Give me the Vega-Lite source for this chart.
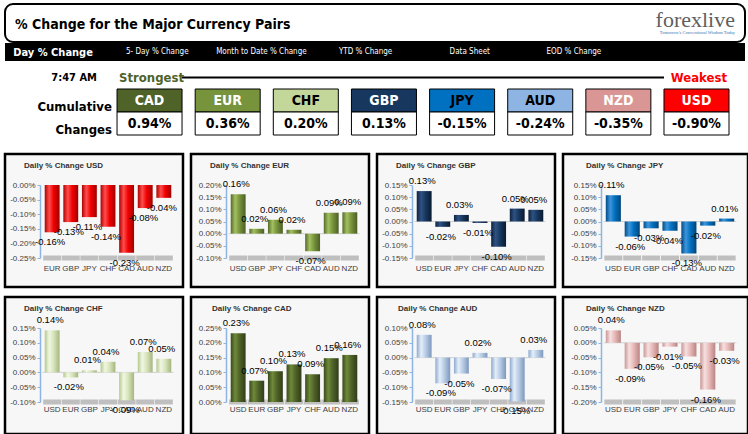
{
"$schema": "https://vega.github.io/schema/vega-lite/v6.json",
"padding": {"left": 3, "top": 3, "right": 0, "bottom": 0},
"background": "white",
"spacing": 8,
"datasets": {
"tabs": [{"tab":"Day % Change"},{"tab":"5- Day % Change"},{"tab":"Month to Date % Change"},{"tab":"YTD % Change"},{"tab":"Data Sheet"},{"tab":"EOD % Change"}],
"cum": [{"cur":"CAD","cum":0.0094},{"cur":"EUR","cum":0.0036},{"cur":"CHF","cum":0.002},{"cur":"GBP","cum":0.0013},{"cur":"JPY","cum":-0.0015},{"cur":"AUD","cum":-0.0024},{"cur":"NZD","cum":-0.0035},{"cur":"USD","cum":-0.009}],
"daily": [
{"base":"USD","pair":"EUR","val":-0.00162},{"base":"USD","pair":"GBP","val":-0.00127},{"base":"USD","pair":"JPY","val":-0.0011},{"base":"USD","pair":"CHF","val":-0.00143},{"base":"USD","pair":"CAD","val":-0.00232},{"base":"USD","pair":"AUD","val":-0.00079},{"base":"USD","pair":"NZD","val":-0.00044},
{"base":"EUR","pair":"USD","val":0.00162},{"base":"EUR","pair":"GBP","val":0.0002},{"base":"EUR","pair":"JPY","val":0.00057},{"base":"EUR","pair":"CHF","val":0.00016},{"base":"EUR","pair":"CAD","val":-0.00072},{"base":"EUR","pair":"AUD","val":0.00086},{"base":"EUR","pair":"NZD","val":0.00088},
{"base":"GBP","pair":"USD","val":0.00125},{"base":"GBP","pair":"EUR","val":-0.00022},{"base":"GBP","pair":"JPY","val":0.00027},{"base":"GBP","pair":"CHF","val":-0.00006},{"base":"GBP","pair":"CAD","val":-0.00104},{"base":"GBP","pair":"AUD","val":0.00053},{"base":"GBP","pair":"NZD","val":0.00048},
{"base":"JPY","pair":"USD","val":0.00108},{"base":"JPY","pair":"EUR","val":-0.00062},{"base":"JPY","pair":"GBP","val":-0.00028},{"base":"JPY","pair":"CHF","val":-0.00038},{"base":"JPY","pair":"CAD","val":-0.00131},{"base":"JPY","pair":"AUD","val":-0.00017},{"base":"JPY","pair":"NZD","val":0.00012},
{"base":"CHF","pair":"USD","val":0.00142},{"base":"CHF","pair":"EUR","val":-0.00017},{"base":"CHF","pair":"GBP","val":0.00007},{"base":"CHF","pair":"JPY","val":0.00036},{"base":"CHF","pair":"CAD","val":-0.00094},{"base":"CHF","pair":"AUD","val":0.00069},{"base":"CHF","pair":"NZD","val":0.00046},
{"base":"CAD","pair":"USD","val":0.00232},{"base":"CAD","pair":"EUR","val":0.00072},{"base":"CAD","pair":"GBP","val":0.00104},{"base":"CAD","pair":"JPY","val":0.00127},{"base":"CAD","pair":"CHF","val":0.00094},{"base":"CAD","pair":"AUD","val":0.00148},{"base":"CAD","pair":"NZD","val":0.00159},
{"base":"AUD","pair":"USD","val":0.00077},{"base":"AUD","pair":"EUR","val":-0.00087},{"base":"AUD","pair":"GBP","val":-0.00054},{"base":"AUD","pair":"JPY","val":0.00016},{"base":"AUD","pair":"CHF","val":-0.00072},{"base":"AUD","pair":"CAD","val":-0.00148},{"base":"AUD","pair":"NZD","val":0.00026},
{"base":"NZD","pair":"USD","val":0.00042},{"base":"NZD","pair":"EUR","val":-0.00088},{"base":"NZD","pair":"GBP","val":-0.00049},{"base":"NZD","pair":"JPY","val":-0.00013},{"base":"NZD","pair":"CHF","val":-0.00046},{"base":"NZD","pair":"CAD","val":-0.00158},{"base":"NZD","pair":"AUD","val":-0.00027}
]
},
"vconcat": [
{"spacing": 0, "vconcat": [
 {"width": 740, "height": 38,
  "view": {"stroke": "black", "strokeWidth": 2, "cornerRadius": 8, "fill": "white"},
  "layer": [
   {"data": {"values": [{"t": "% Change for the Major Currency Pairs"}]},
    "mark": {"type": "text", "align": "left", "font": "DejaVu Sans Condensed, Liberation Sans, sans-serif", "fontWeight": "bold", "fontSize": 14, "dx": 10, "dy": 2, "fill": "black"},
    "encoding": {"x": {"datum": "title", "bandPosition": 0, "scale": {"type": "band", "domain": ["title", "logo"], "range": [0, 740], "paddingInner": 0, "paddingOuter": 0}, "axis": null}, "text": {"field": "t"}}},
   {"data": {"values": [{"t": "forexlive"}]},
    "mark": {"type": "text", "align": "right", "font": "Liberation Serif", "fontSize": 22, "fill": "#5f5f5f", "dx": -10, "dy": -3},
    "encoding": {"x": {"datum": "logo", "bandPosition": 1}, "text": {"field": "t"}}},
   {"data": {"values": [{"t": "Tomorrow's Conventional Wisdom Today"}]},
    "mark": {"type": "text", "align": "right", "font": "Liberation Serif", "fontSize": 4.5, "fill": "#2f75b5", "dx": -10, "dy": 10},
    "encoding": {"x": {"datum": "logo", "bandPosition": 1}, "text": {"field": "t"}}}
  ]},
 {"width": 740, "height": 18,
  "view": {"stroke": null, "fill": "black"},
  "data": {"name": "tabs"},
  "encoding": {"x": {"field": "tab", "type": "nominal", "sort": null, "scale": {"domain": ["Day % Change","5- Day % Change","Month to Date % Change","YTD % Change","Data Sheet","EOD % Change"], "range": [-4, 621], "paddingInner": 0, "paddingOuter": 0}, "axis": null}, "text": {"field": "tab"}},
  "layer": [
   {"transform": [{"filter": "datum.tab == 'Day % Change'"}], "mark": {"type": "text", "fill": "white", "fontSize": 11, "fontWeight": "bold", "font": "DejaVu Sans Condensed, Liberation Sans, sans-serif", "dy": 1}},
   {"transform": [{"filter": "datum.tab != 'Day % Change'"}], "mark": {"type": "text", "fill": "white", "fontSize": 8, "font": "DejaVu Sans Condensed, Liberation Sans, sans-serif"}}
  ]}
]},
{"width": 742, "height": 75,
 "data": {"name": "cum"},
 "layer": [
  {"mark": {"type": "rect", "stroke": "black", "strokeWidth": 1},
   "encoding": {
    "x": {"field": "cur", "type": "nominal", "scale": {"type": "band", "domain": ["_label","CAD","EUR","CHF","GBP","JPY","AUD","NZD","USD"], "range": [33.9, 724], "paddingInner": 0.168, "paddingOuter": 0}, "axis": null},
    "y": {"datum": "head", "type": "nominal", "scale": {"type": "band", "domain": ["top", "head", "value"], "range": [-3, 66], "paddingInner": 0, "paddingOuter": 0}, "axis": null},
    "fill": {"field": "cur", "type": "nominal", "scale": {"domain": ["CAD","EUR","CHF","GBP","JPY","AUD","NZD","USD"], "range": ["#4f6228","#77933c","#c4d79b","#17375e","#0070c0","#8db4e2","#da9694","#ff0000"]}, "legend": null}}},
  {"mark": {"type": "rect", "stroke": "black", "strokeWidth": 1, "fill": "white"},
   "encoding": {"x": {"field": "cur", "type": "nominal"}, "y": {"datum": "value", "type": "nominal"}}},
  {"mark": {"type": "text", "font": "DejaVu Sans Condensed, Liberation Sans, sans-serif", "fontWeight": "bold", "fontSize": 14},
   "encoding": {"x": {"field": "cur", "type": "nominal"}, "y": {"datum": "head", "type": "nominal"}, "text": {"field": "cur"},
    "fill": {"condition": {"test": "indexof(['CHF','JPY','AUD'], datum.cur) >= 0", "value": "black"}, "value": "white"}}},
  {"mark": {"type": "text", "font": "DejaVu Sans Condensed, Liberation Sans, sans-serif", "fontWeight": "bold", "fontSize": 14, "fill": "black"},
   "encoding": {"x": {"field": "cur", "type": "nominal"}, "y": {"datum": "value", "type": "nominal"}, "text": {"field": "cum", "type": "quantitative", "format": ".2%"}}},
  {"data": {"values": [{"from": "CAD", "to": "USD"}]},
   "mark": {"type": "rule", "strokeWidth": 2, "color": "black"},
   "encoding": {"x": {"field": "from", "type": "nominal", "bandPosition": 1}, "x2": {"field": "to", "bandPosition": 0}, "y": {"datum": "top", "type": "nominal"}}},
  {"data": {"values": [{"t": "7:47 AM"}]},
   "mark": {"type": "text", "align": "right", "dx": -7, "font": "DejaVu Sans Condensed, Liberation Sans, sans-serif", "fontWeight": "bold", "fontSize": 11, "fill": "black"},
   "encoding": {"x": {"datum": "_label", "type": "nominal", "bandPosition": 1}, "y": {"datum": "top", "type": "nominal"}, "text": {"field": "t"}}},
  {"data": {"values": [{"t": "Strongest"}]},
   "mark": {"type": "text", "align": "left", "dx": 2, "font": "DejaVu Sans Condensed, Liberation Sans, sans-serif", "fontWeight": "bold", "fontSize": 13, "fill": "#4f6228"},
   "encoding": {"x": {"datum": "CAD", "type": "nominal", "bandPosition": 0}, "y": {"datum": "top", "type": "nominal"}, "text": {"field": "t"}}},
  {"data": {"values": [{"t": "Weakest"}]},
   "mark": {"type": "text", "align": "right", "dx": -2, "font": "DejaVu Sans Condensed, Liberation Sans, sans-serif", "fontWeight": "bold", "fontSize": 13, "fill": "#ff0000"},
   "encoding": {"x": {"datum": "USD", "type": "nominal", "bandPosition": 1}, "y": {"datum": "top", "type": "nominal"}, "text": {"field": "t"}}},
  {"data": {"values": [{"t": "Cumulative\nChanges"}]},
   "mark": {"type": "text", "align": "right", "lineBreak": "\n", "lineHeight": 23, "dx": 8, "dy": -5, "font": "DejaVu Sans Condensed, Liberation Sans, sans-serif", "fontWeight": "bold", "fontSize": 13, "fill": "black"},
   "encoding": {"x": {"datum": "_label", "type": "nominal", "bandPosition": 1}, "y": {"datum": "value", "type": "nominal", "bandPosition": 0}, "text": {"field": "t"}}}
 ]},
{"spacing": 6, "vconcat": [
{"spacing": 4, "hconcat": [
 {"width": 178, "height": 133, "view": {"stroke": "black", "strokeWidth": 2.5, "fill": "#f7f7f7"},
  "title": {"text": "Daily % Change USD", "anchor": "start", "frame": "group", "offset": 0, "dx": 19, "dy": 16, "fontSize": 8, "fontWeight": "bold", "color": "#333333", "font": "Liberation Sans"},
  "data": {"name": "daily"}, "transform": [{"filter": "datum.base == 'USD'"}],
  "encoding": {
   "x": {"field": "pair", "type": "nominal", "scale": {"domain": ["EUR","GBP","JPY","CHF","CAD","AUD","NZD"], "range": [36, 170], "paddingInner": 0.2, "paddingOuter": 0.2}, "axis": {"orient": "bottom", "offset": -24, "domain": false, "ticks": false, "labelAngle": 0, "labelPadding": 1, "labelFontSize": 8, "labelColor": "#404040", "title": null}},
   "y": {"field": "val", "type": "quantitative", "scale": {"domain": [-0.0025, 0], "range": [104, 31], "nice": false}, "axis": {"orient": "left", "offset": -35, "values": [-0.0025,-0.002,-0.0015,-0.001,-0.0005,0], "format": ".2%", "grid": false, "title": null, "labelFontSize": 8, "labelColor": "#404040", "domainColor": "#8db4e2", "domainWidth": 1.5, "tickColor": "#8db4e2", "tickSize": 3, "labelPadding": 2}}},
  "layer": [
   {"mark": {"type": "tick", "thickness": 5, "size": 18, "color": "#a6a6a6"}, "encoding": {"y": {"datum": -0.0025, "type": "quantitative", "scale": {"domain": [-0.0025, 0], "range": [104, 31], "nice": false}, "axis": {"orient": "left", "offset": -35, "values": [-0.0025,-0.002,-0.0015,-0.001,-0.0005,0], "format": ".2%", "grid": false, "title": null, "labelFontSize": 8, "labelColor": "#404040", "domainColor": "#8db4e2", "domainWidth": 1.5, "tickColor": "#8db4e2", "tickSize": 3, "labelPadding": 2}}}},
   {"mark": {"type": "bar", "fill": {"gradient": "linear", "x1": 0, "y1": 0, "x2": 1, "y2": 0, "stops": [{"offset": 0, "color": "#b00000"}, {"offset": 0.3, "color": "#ff4d4d"}, {"offset": 0.6, "color": "#f00000"}, {"offset": 1, "color": "#a00000"}]}}},
   {"transform": [{"filter": "datum.val >= 0"}], "mark": {"type": "text", "dy": -10, "dx": -2, "fontSize": 9.5, "fill": "black"}, "encoding": {"text": {"field": "val", "type": "quantitative", "format": ".2%"}}},
   {"transform": [{"filter": "datum.val < 0"}], "mark": {"type": "text", "dy": 10, "dx": -2, "fontSize": 9.5, "fill": "black"}, "encoding": {"text": {"field": "val", "type": "quantitative", "format": ".2%"}}}
  ]},
 {"width": 178, "height": 133, "view": {"stroke": "black", "strokeWidth": 2.5, "fill": "#f7f7f7"},
  "title": {"text": "Daily % Change EUR", "anchor": "start", "frame": "group", "offset": 0, "dx": 19, "dy": 16, "fontSize": 8, "fontWeight": "bold", "color": "#333333", "font": "Liberation Sans"},
  "data": {"name": "daily"}, "transform": [{"filter": "datum.base == 'EUR'"}],
  "encoding": {
   "x": {"field": "pair", "type": "nominal", "scale": {"domain": ["USD","GBP","JPY","CHF","CAD","AUD","NZD"], "range": [36, 170], "paddingInner": 0.2, "paddingOuter": 0.2}, "axis": {"orient": "bottom", "offset": -24, "domain": false, "ticks": false, "labelAngle": 0, "labelPadding": 1, "labelFontSize": 8, "labelColor": "#404040", "title": null}},
   "y": {"field": "val", "type": "quantitative", "scale": {"domain": [-0.001, 0.002], "range": [104, 31], "nice": false}, "axis": {"orient": "left", "offset": -35, "values": [-0.001,-0.0005,0,0.0005,0.001,0.0015,0.002], "format": ".2%", "grid": false, "title": null, "labelFontSize": 8, "labelColor": "#404040", "domainColor": "#8db4e2", "domainWidth": 1.5, "tickColor": "#8db4e2", "tickSize": 3, "labelPadding": 2}}},
  "layer": [
   {"mark": {"type": "tick", "thickness": 5, "size": 18, "color": "#a6a6a6"}, "encoding": {"y": {"datum": -0.001, "type": "quantitative", "scale": {"domain": [-0.001, 0.002], "range": [104, 31], "nice": false}, "axis": {"orient": "left", "offset": -35, "values": [-0.001,-0.0005,0,0.0005,0.001,0.0015,0.002], "format": ".2%", "grid": false, "title": null, "labelFontSize": 8, "labelColor": "#404040", "domainColor": "#8db4e2", "domainWidth": 1.5, "tickColor": "#8db4e2", "tickSize": 3, "labelPadding": 2}}}},
   {"mark": {"type": "tick", "thickness": 1, "size": 19.5, "color": "#c8c8c8"}, "encoding": {"y": {"datum": 0, "type": "quantitative", "scale": {"domain": [-0.001, 0.002], "range": [104, 31], "nice": false}, "axis": {"orient": "left", "offset": -35, "values": [-0.001,-0.0005,0,0.0005,0.001,0.0015,0.002], "format": ".2%", "grid": false, "title": null, "labelFontSize": 8, "labelColor": "#404040", "domainColor": "#8db4e2", "domainWidth": 1.5, "tickColor": "#8db4e2", "tickSize": 3, "labelPadding": 2}}}},
   {"mark": {"type": "bar", "fill": {"gradient": "linear", "x1": 0, "y1": 0, "x2": 1, "y2": 0, "stops": [{"offset": 0, "color": "#556b2a"}, {"offset": 0.3, "color": "#a3c060"}, {"offset": 0.6, "color": "#77933c"}, {"offset": 1, "color": "#4c5f26"}]}}},
   {"transform": [{"filter": "datum.val >= 0"}], "mark": {"type": "text", "dy": -10, "dx": -2, "fontSize": 9.5, "fill": "black"}, "encoding": {"text": {"field": "val", "type": "quantitative", "format": ".2%"}}},
   {"transform": [{"filter": "datum.val < 0"}], "mark": {"type": "text", "dy": 10, "dx": -2, "fontSize": 9.5, "fill": "black"}, "encoding": {"text": {"field": "val", "type": "quantitative", "format": ".2%"}}}
  ]},
 {"width": 178, "height": 133, "view": {"stroke": "black", "strokeWidth": 2.5, "fill": "#f7f7f7"},
  "title": {"text": "Daily % Change GBP", "anchor": "start", "frame": "group", "offset": 0, "dx": 19, "dy": 16, "fontSize": 8, "fontWeight": "bold", "color": "#333333", "font": "Liberation Sans"},
  "data": {"name": "daily"}, "transform": [{"filter": "datum.base == 'GBP'"}],
  "encoding": {
   "x": {"field": "pair", "type": "nominal", "scale": {"domain": ["USD","EUR","JPY","CHF","CAD","AUD","NZD"], "range": [36, 170], "paddingInner": 0.2, "paddingOuter": 0.2}, "axis": {"orient": "bottom", "offset": -24, "domain": false, "ticks": false, "labelAngle": 0, "labelPadding": 1, "labelFontSize": 8, "labelColor": "#404040", "title": null}},
   "y": {"field": "val", "type": "quantitative", "scale": {"domain": [-0.0015, 0.0015], "range": [104, 31], "nice": false}, "axis": {"orient": "left", "offset": -35, "values": [-0.0015,-0.001,-0.0005,0,0.0005,0.001,0.0015], "format": ".2%", "grid": false, "title": null, "labelFontSize": 8, "labelColor": "#404040", "domainColor": "#8db4e2", "domainWidth": 1.5, "tickColor": "#8db4e2", "tickSize": 3, "labelPadding": 2}}},
  "layer": [
   {"mark": {"type": "tick", "thickness": 5, "size": 18, "color": "#a6a6a6"}, "encoding": {"y": {"datum": -0.0015, "type": "quantitative", "scale": {"domain": [-0.0015, 0.0015], "range": [104, 31], "nice": false}, "axis": {"orient": "left", "offset": -35, "values": [-0.0015,-0.001,-0.0005,0,0.0005,0.001,0.0015], "format": ".2%", "grid": false, "title": null, "labelFontSize": 8, "labelColor": "#404040", "domainColor": "#8db4e2", "domainWidth": 1.5, "tickColor": "#8db4e2", "tickSize": 3, "labelPadding": 2}}}},
   {"mark": {"type": "tick", "thickness": 1, "size": 19.5, "color": "#c8c8c8"}, "encoding": {"y": {"datum": 0, "type": "quantitative", "scale": {"domain": [-0.0015, 0.0015], "range": [104, 31], "nice": false}, "axis": {"orient": "left", "offset": -35, "values": [-0.0015,-0.001,-0.0005,0,0.0005,0.001,0.0015], "format": ".2%", "grid": false, "title": null, "labelFontSize": 8, "labelColor": "#404040", "domainColor": "#8db4e2", "domainWidth": 1.5, "tickColor": "#8db4e2", "tickSize": 3, "labelPadding": 2}}}},
   {"mark": {"type": "bar", "fill": {"gradient": "linear", "x1": 0, "y1": 0, "x2": 1, "y2": 0, "stops": [{"offset": 0, "color": "#0e2340"}, {"offset": 0.3, "color": "#2f5283"}, {"offset": 0.6, "color": "#17375e"}, {"offset": 1, "color": "#0a1a30"}]}}},
   {"transform": [{"filter": "datum.val >= 0"}], "mark": {"type": "text", "dy": -10, "dx": -2, "fontSize": 9.5, "fill": "black"}, "encoding": {"text": {"field": "val", "type": "quantitative", "format": ".2%"}}},
   {"transform": [{"filter": "datum.val < 0"}], "mark": {"type": "text", "dy": 10, "dx": -2, "fontSize": 9.5, "fill": "black"}, "encoding": {"text": {"field": "val", "type": "quantitative", "format": ".2%"}}}
  ]},
 {"width": 185, "height": 133, "view": {"stroke": "black", "strokeWidth": 2.5, "fill": "#f7f7f7"},
  "title": {"text": "Daily % Change JPY", "anchor": "start", "frame": "group", "offset": 0, "dx": 23, "dy": 16, "fontSize": 8, "fontWeight": "bold", "color": "#333333", "font": "Liberation Sans"},
  "data": {"name": "daily"}, "transform": [{"filter": "datum.base == 'JPY'"}],
  "encoding": {
   "x": {"field": "pair", "type": "nominal", "scale": {"domain": ["USD","EUR","GBP","CHF","CAD","AUD","NZD"], "range": [39, 175], "paddingInner": 0.2, "paddingOuter": 0.2}, "axis": {"orient": "bottom", "offset": -24, "domain": false, "ticks": false, "labelAngle": 0, "labelPadding": 1, "labelFontSize": 8, "labelColor": "#404040", "title": null}},
   "y": {"field": "val", "type": "quantitative", "scale": {"domain": [-0.0015, 0.0015], "range": [104, 31], "nice": false}, "axis": {"orient": "left", "offset": -38, "values": [-0.0015,-0.001,-0.0005,0,0.0005,0.001,0.0015], "format": ".2%", "grid": false, "title": null, "labelFontSize": 8, "labelColor": "#404040", "domainColor": "#8db4e2", "domainWidth": 1.5, "tickColor": "#8db4e2", "tickSize": 3, "labelPadding": 2}}},
  "layer": [
   {"mark": {"type": "tick", "thickness": 5, "size": 18, "color": "#a6a6a6"}, "encoding": {"y": {"datum": -0.0015, "type": "quantitative", "scale": {"domain": [-0.0015, 0.0015], "range": [104, 31], "nice": false}, "axis": {"orient": "left", "offset": -38, "values": [-0.0015,-0.001,-0.0005,0,0.0005,0.001,0.0015], "format": ".2%", "grid": false, "title": null, "labelFontSize": 8, "labelColor": "#404040", "domainColor": "#8db4e2", "domainWidth": 1.5, "tickColor": "#8db4e2", "tickSize": 3, "labelPadding": 2}}}},
   {"mark": {"type": "tick", "thickness": 1, "size": 19.5, "color": "#c8c8c8"}, "encoding": {"y": {"datum": 0, "type": "quantitative", "scale": {"domain": [-0.0015, 0.0015], "range": [104, 31], "nice": false}, "axis": {"orient": "left", "offset": -38, "values": [-0.0015,-0.001,-0.0005,0,0.0005,0.001,0.0015], "format": ".2%", "grid": false, "title": null, "labelFontSize": 8, "labelColor": "#404040", "domainColor": "#8db4e2", "domainWidth": 1.5, "tickColor": "#8db4e2", "tickSize": 3, "labelPadding": 2}}}},
   {"mark": {"type": "bar", "fill": {"gradient": "linear", "x1": 0, "y1": 0, "x2": 1, "y2": 0, "stops": [{"offset": 0, "color": "#004c88"}, {"offset": 0.3, "color": "#3d95dc"}, {"offset": 0.6, "color": "#0070c0"}, {"offset": 1, "color": "#004478"}]}}},
   {"transform": [{"filter": "datum.val >= 0"}], "mark": {"type": "text", "dy": -10, "dx": -2, "fontSize": 9.5, "fill": "black"}, "encoding": {"text": {"field": "val", "type": "quantitative", "format": ".2%"}}},
   {"transform": [{"filter": "datum.val < 0"}], "mark": {"type": "text", "dy": 10, "dx": -2, "fontSize": 9.5, "fill": "black"}, "encoding": {"text": {"field": "val", "type": "quantitative", "format": ".2%"}}}
  ]}
]},
{"spacing": 4, "hconcat": [
 {"width": 178, "height": 137, "view": {"stroke": "black", "strokeWidth": 2.5, "fill": "#f7f7f7"},
  "title": {"text": "Daily % Change CHF", "anchor": "start", "frame": "group", "offset": 0, "dx": 19, "dy": 16, "fontSize": 8, "fontWeight": "bold", "color": "#333333", "font": "Liberation Sans"},
  "data": {"name": "daily"}, "transform": [{"filter": "datum.base == 'CHF'"}],
  "encoding": {
   "x": {"field": "pair", "type": "nominal", "scale": {"domain": ["USD","EUR","GBP","JPY","CAD","AUD","NZD"], "range": [36, 170], "paddingInner": 0.2, "paddingOuter": 0.2}, "axis": {"orient": "bottom", "offset": -30, "domain": false, "ticks": false, "labelAngle": 0, "labelPadding": 1, "labelFontSize": 8, "labelColor": "#404040", "title": null}},
   "y": {"field": "val", "type": "quantitative", "scale": {"domain": [-0.001, 0.0015], "range": [105, 31], "nice": false}, "axis": {"orient": "left", "offset": -35, "values": [-0.001,-0.0005,0,0.0005,0.001,0.0015], "format": ".2%", "grid": false, "title": null, "labelFontSize": 8, "labelColor": "#404040", "domainColor": "#8db4e2", "domainWidth": 1.5, "tickColor": "#8db4e2", "tickSize": 3, "labelPadding": 2}}},
  "layer": [
   {"mark": {"type": "tick", "thickness": 5, "size": 18, "color": "#a6a6a6"}, "encoding": {"y": {"datum": -0.001, "type": "quantitative", "scale": {"domain": [-0.001, 0.0015], "range": [105, 31], "nice": false}, "axis": {"orient": "left", "offset": -35, "values": [-0.001,-0.0005,0,0.0005,0.001,0.0015], "format": ".2%", "grid": false, "title": null, "labelFontSize": 8, "labelColor": "#404040", "domainColor": "#8db4e2", "domainWidth": 1.5, "tickColor": "#8db4e2", "tickSize": 3, "labelPadding": 2}}}},
   {"mark": {"type": "tick", "thickness": 1, "size": 19.5, "color": "#c8c8c8"}, "encoding": {"y": {"datum": 0, "type": "quantitative", "scale": {"domain": [-0.001, 0.0015], "range": [105, 31], "nice": false}, "axis": {"orient": "left", "offset": -35, "values": [-0.001,-0.0005,0,0.0005,0.001,0.0015], "format": ".2%", "grid": false, "title": null, "labelFontSize": 8, "labelColor": "#404040", "domainColor": "#8db4e2", "domainWidth": 1.5, "tickColor": "#8db4e2", "tickSize": 3, "labelPadding": 2}}}},
   {"mark": {"type": "bar", "fill": {"gradient": "linear", "x1": 0, "y1": 0, "x2": 1, "y2": 0, "stops": [{"offset": 0, "color": "#b5c890"}, {"offset": 0.3, "color": "#f0f7e2"}, {"offset": 0.6, "color": "#d8e4bc"}, {"offset": 1, "color": "#a4b67e"}]}}},
   {"transform": [{"filter": "datum.val >= 0"}], "mark": {"type": "text", "dy": -10, "dx": -2, "fontSize": 9.5, "fill": "black"}, "encoding": {"text": {"field": "val", "type": "quantitative", "format": ".2%"}}},
   {"transform": [{"filter": "datum.val < 0"}], "mark": {"type": "text", "dy": 10, "dx": -2, "fontSize": 9.5, "fill": "black"}, "encoding": {"text": {"field": "val", "type": "quantitative", "format": ".2%"}}}
  ]},
 {"width": 178, "height": 137, "view": {"stroke": "black", "strokeWidth": 2.5, "fill": "#f7f7f7"},
  "title": {"text": "Daily % Change CAD", "anchor": "start", "frame": "group", "offset": 0, "dx": 21, "dy": 16, "fontSize": 8, "fontWeight": "bold", "color": "#333333", "font": "Liberation Sans"},
  "data": {"name": "daily"}, "transform": [{"filter": "datum.base == 'CAD'"}],
  "encoding": {
   "x": {"field": "pair", "type": "nominal", "scale": {"domain": ["USD","EUR","GBP","JPY","CHF","AUD","NZD"], "range": [36, 170], "paddingInner": 0.2, "paddingOuter": 0.2}, "axis": {"orient": "bottom", "offset": -30, "domain": false, "ticks": false, "labelAngle": 0, "labelPadding": 1, "labelFontSize": 8, "labelColor": "#404040", "title": null}},
   "y": {"field": "val", "type": "quantitative", "scale": {"domain": [0, 0.0025], "range": [105, 31], "nice": false}, "axis": {"orient": "left", "offset": -35, "values": [0,0.0005,0.001,0.0015,0.002,0.0025], "format": ".2%", "grid": false, "title": null, "labelFontSize": 8, "labelColor": "#404040", "domainColor": "#8db4e2", "domainWidth": 1.5, "tickColor": "#8db4e2", "tickSize": 3, "labelPadding": 2}}},
  "layer": [
   {"mark": {"type": "tick", "thickness": 5, "size": 18, "color": "#a6a6a6"}, "encoding": {"y": {"datum": 0, "type": "quantitative", "scale": {"domain": [0, 0.0025], "range": [105, 31], "nice": false}, "axis": {"orient": "left", "offset": -35, "values": [0,0.0005,0.001,0.0015,0.002,0.0025], "format": ".2%", "grid": false, "title": null, "labelFontSize": 8, "labelColor": "#404040", "domainColor": "#8db4e2", "domainWidth": 1.5, "tickColor": "#8db4e2", "tickSize": 3, "labelPadding": 2}}}},
   {"mark": {"type": "bar", "fill": {"gradient": "linear", "x1": 0, "y1": 0, "x2": 1, "y2": 0, "stops": [{"offset": 0, "color": "#3a4a1c"}, {"offset": 0.3, "color": "#6e8a3a"}, {"offset": 0.6, "color": "#4f6228"}, {"offset": 1, "color": "#313d18"}]}}},
   {"transform": [{"filter": "datum.val >= 0"}], "mark": {"type": "text", "dy": -10, "dx": -2, "fontSize": 9.5, "fill": "black"}, "encoding": {"text": {"field": "val", "type": "quantitative", "format": ".2%"}}}
  ]},
 {"width": 178, "height": 137, "view": {"stroke": "black", "strokeWidth": 2.5, "fill": "#f7f7f7"},
  "title": {"text": "Daily % Change AUD", "anchor": "start", "frame": "group", "offset": 0, "dx": 21, "dy": 16, "fontSize": 8, "fontWeight": "bold", "color": "#333333", "font": "Liberation Sans"},
  "data": {"name": "daily"}, "transform": [{"filter": "datum.base == 'AUD'"}],
  "encoding": {
   "x": {"field": "pair", "type": "nominal", "scale": {"domain": ["USD","EUR","GBP","JPY","CHF","CAD","NZD"], "range": [36, 170], "paddingInner": 0.2, "paddingOuter": 0.2}, "axis": {"orient": "bottom", "offset": -30, "domain": false, "ticks": false, "labelAngle": 0, "labelPadding": 1, "labelFontSize": 8, "labelColor": "#404040", "title": null}},
   "y": {"field": "val", "type": "quantitative", "scale": {"domain": [-0.0015, 0.001], "range": [105, 31], "nice": false}, "axis": {"orient": "left", "offset": -35, "values": [-0.0015,-0.001,-0.0005,0,0.0005,0.001], "format": ".2%", "grid": false, "title": null, "labelFontSize": 8, "labelColor": "#404040", "domainColor": "#8db4e2", "domainWidth": 1.5, "tickColor": "#8db4e2", "tickSize": 3, "labelPadding": 2}}},
  "layer": [
   {"mark": {"type": "tick", "thickness": 5, "size": 18, "color": "#a6a6a6"}, "encoding": {"y": {"datum": -0.0015, "type": "quantitative", "scale": {"domain": [-0.0015, 0.001], "range": [105, 31], "nice": false}, "axis": {"orient": "left", "offset": -35, "values": [-0.0015,-0.001,-0.0005,0,0.0005,0.001], "format": ".2%", "grid": false, "title": null, "labelFontSize": 8, "labelColor": "#404040", "domainColor": "#8db4e2", "domainWidth": 1.5, "tickColor": "#8db4e2", "tickSize": 3, "labelPadding": 2}}}},
   {"mark": {"type": "tick", "thickness": 1, "size": 19.5, "color": "#c8c8c8"}, "encoding": {"y": {"datum": 0, "type": "quantitative", "scale": {"domain": [-0.0015, 0.001], "range": [105, 31], "nice": false}, "axis": {"orient": "left", "offset": -35, "values": [-0.0015,-0.001,-0.0005,0,0.0005,0.001], "format": ".2%", "grid": false, "title": null, "labelFontSize": 8, "labelColor": "#404040", "domainColor": "#8db4e2", "domainWidth": 1.5, "tickColor": "#8db4e2", "tickSize": 3, "labelPadding": 2}}}},
   {"mark": {"type": "bar", "fill": {"gradient": "linear", "x1": 0, "y1": 0, "x2": 1, "y2": 0, "stops": [{"offset": 0, "color": "#8eaacf"}, {"offset": 0.3, "color": "#e4eef9"}, {"offset": 0.6, "color": "#b8cce4"}, {"offset": 1, "color": "#7d98bd"}]}}},
   {"transform": [{"filter": "datum.val >= 0"}], "mark": {"type": "text", "dy": -10, "dx": -2, "fontSize": 9.5, "fill": "black"}, "encoding": {"text": {"field": "val", "type": "quantitative", "format": ".2%"}}},
   {"transform": [{"filter": "datum.val < 0"}], "mark": {"type": "text", "dy": 10, "dx": -2, "fontSize": 9.5, "fill": "black"}, "encoding": {"text": {"field": "val", "type": "quantitative", "format": ".2%"}}}
  ]},
 {"width": 185, "height": 137, "view": {"stroke": "black", "strokeWidth": 2.5, "fill": "#f7f7f7"},
  "title": {"text": "Daily % Change NZD", "anchor": "start", "frame": "group", "offset": 0, "dx": 23, "dy": 16, "fontSize": 8, "fontWeight": "bold", "color": "#333333", "font": "Liberation Sans"},
  "data": {"name": "daily"}, "transform": [{"filter": "datum.base == 'NZD'"}],
  "encoding": {
   "x": {"field": "pair", "type": "nominal", "scale": {"domain": ["USD","EUR","GBP","JPY","CHF","CAD","AUD"], "range": [39, 175], "paddingInner": 0.2, "paddingOuter": 0.2}, "axis": {"orient": "bottom", "offset": -30, "domain": false, "ticks": false, "labelAngle": 0, "labelPadding": 1, "labelFontSize": 8, "labelColor": "#404040", "title": null}},
   "y": {"field": "val", "type": "quantitative", "scale": {"domain": [-0.002, 0.0005], "range": [105, 31], "nice": false}, "axis": {"orient": "left", "offset": -38, "values": [-0.002,-0.0015,-0.001,-0.0005,0,0.0005], "format": ".2%", "grid": false, "title": null, "labelFontSize": 8, "labelColor": "#404040", "domainColor": "#8db4e2", "domainWidth": 1.5, "tickColor": "#8db4e2", "tickSize": 3, "labelPadding": 2}}},
  "layer": [
   {"mark": {"type": "tick", "thickness": 5, "size": 18, "color": "#a6a6a6"}, "encoding": {"y": {"datum": -0.002, "type": "quantitative", "scale": {"domain": [-0.002, 0.0005], "range": [105, 31], "nice": false}, "axis": {"orient": "left", "offset": -38, "values": [-0.002,-0.0015,-0.001,-0.0005,0,0.0005], "format": ".2%", "grid": false, "title": null, "labelFontSize": 8, "labelColor": "#404040", "domainColor": "#8db4e2", "domainWidth": 1.5, "tickColor": "#8db4e2", "tickSize": 3, "labelPadding": 2}}}},
   {"mark": {"type": "tick", "thickness": 1, "size": 19.5, "color": "#c8c8c8"}, "encoding": {"y": {"datum": 0, "type": "quantitative", "scale": {"domain": [-0.002, 0.0005], "range": [105, 31], "nice": false}, "axis": {"orient": "left", "offset": -38, "values": [-0.002,-0.0015,-0.001,-0.0005,0,0.0005], "format": ".2%", "grid": false, "title": null, "labelFontSize": 8, "labelColor": "#404040", "domainColor": "#8db4e2", "domainWidth": 1.5, "tickColor": "#8db4e2", "tickSize": 3, "labelPadding": 2}}}},
   {"mark": {"type": "bar", "fill": {"gradient": "linear", "x1": 0, "y1": 0, "x2": 1, "y2": 0, "stops": [{"offset": 0, "color": "#c99796"}, {"offset": 0.3, "color": "#f7e0e0"}, {"offset": 0.6, "color": "#e6b8b7"}, {"offset": 1, "color": "#b88584"}]}}},
   {"transform": [{"filter": "datum.val >= 0"}], "mark": {"type": "text", "dy": -10, "dx": -2, "fontSize": 9.5, "fill": "black"}, "encoding": {"text": {"field": "val", "type": "quantitative", "format": ".2%"}}},
   {"transform": [{"filter": "datum.val < 0"}], "mark": {"type": "text", "dy": 10, "dx": -2, "fontSize": 9.5, "fill": "black"}, "encoding": {"text": {"field": "val", "type": "quantitative", "format": ".2%"}}}
  ]}
]}
]}
],
"config": {
 "view": {"stroke": null},
 "font": "Liberation Sans",
 "locale": {"number": {"decimal": ".", "thousands": ",", "grouping": [3], "currency": ["$", ""], "minus": "-"}},
 "axis": {"labelFont": "Liberation Sans"}
}
}
